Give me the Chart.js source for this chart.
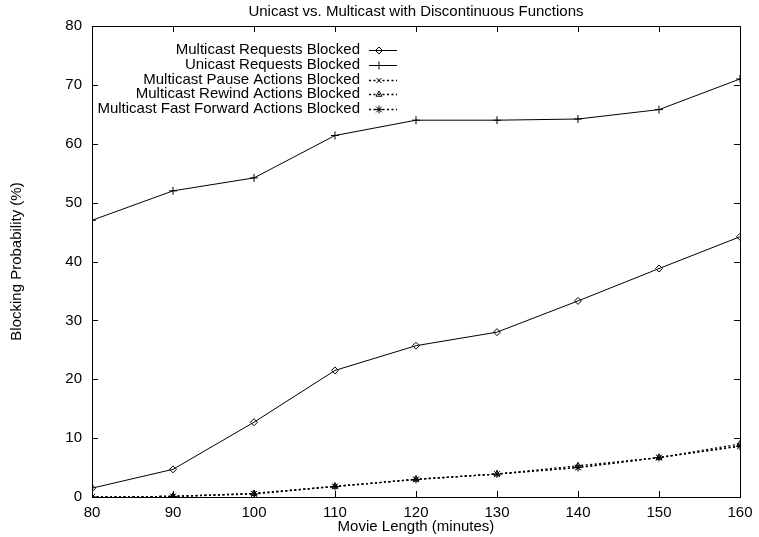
<!DOCTYPE html>
<html>
<head>
<meta charset="utf-8">
<title>Unicast vs. Multicast with Discontinuous Functions</title>
<script src="https://cdn.jsdelivr.net/npm/chart.js@4.4.1/dist/chart.umd.min.js"></script>
<style>
  html, body { margin: 0; padding: 0; background: #fff; }
  #wrap { width: 759px; height: 537px; position: relative; }
</style>
</head>
<body>
<div id="wrap"><canvas id="chart"></canvas></div>
<script>
// Movie length (minutes) on the x axis
const movieLength = [80, 90, 100, 110, 120, 130, 140, 150, 160];

// Blocking probability (%) per series
const multicastRequests = [1.5, 4.7, 12.7, 21.5, 25.7, 28.0, 33.3, 38.8, 44.2];
const unicastRequests = [47.0, 52.0, 54.2, 61.4, 64.0, 64.0, 64.2, 65.8, 71.0];
const pauseBlocked = [0.0, 0.1, 0.6, 1.8, 3.0, 3.9, 5.0, 6.7, 8.7];
const rewindBlocked = [0.0, 0.1, 0.6, 1.8, 3.0, 3.9, 5.3, 6.7, 9.0];
const fastForwardBlocked = [0.0, 0.1, 0.5, 1.8, 3.0, 3.9, 5.0, 6.7, 8.6];

const seriesLabels = [
  "Multicast Requests Blocked",
  "Unicast Requests Blocked",
  "Multicast Pause Actions Blocked",
  "Multicast Rewind Actions Blocked",
  "Multicast Fast Forward Actions Blocked",
];

// Axis ranges and tick step
const xRange = [80, 160];
const yRange = [0, 80];
const xStep = 10;
const yStep = 10;

const FONT = "'Liberation Sans', Arial, Helvetica, sans-serif";
const FONT_SIZE = 15;
Chart.defaults.font.family = FONT;
Chart.defaults.font.size = FONT_SIZE;
Chart.defaults.font.lineHeight = 1.2;
Chart.defaults.color = "#000";

const toPoints = (ys) => movieLength.map((x, i) => ({ x, y: ys[i] }));

const seriesStyle = [
  { style: "rectRot", radius: 3.5, dash: [] },
  { style: "cross", radius: 4, dash: [] },
  { style: "crossRot", radius: 3.5, dash: [2, 2.5] },
  { style: "triangle", radius: 3.5, dash: [2, 2.5] },
  { style: "star", radius: 4, dash: [2, 2.5] },
];

const seriesData = [multicastRequests, unicastRequests, pauseBlocked, rewindBlocked, fastForwardBlocked];

const datasets = seriesData.map((ys, i) => ({
  label: seriesLabels[i],
  data: toPoints(ys),
  borderColor: "#000",
  borderWidth: seriesStyle[i].dash.length ? 1.3 : 1,
  borderDash: seriesStyle[i].dash,
  pointStyle: seriesStyle[i].style,
  pointRadius: seriesStyle[i].radius,
  pointBorderColor: "#000",
  pointBackgroundColor: "rgba(0,0,0,0)",
  pointBorderWidth: 1,
  tension: 0,
  fill: false,
}));

// frame, inward ticks, centred title and gnuplot-style key
const gnuplotDecor = {
  id: "gnuplotDecor",
  afterDraw(chart) {
    const { ctx, chartArea: a, scales } = chart;
    ctx.save();
    ctx.strokeStyle = "#000";
    ctx.lineWidth = 1;
    ctx.setLineDash([]);
    ctx.strokeRect(Math.round(a.left) + 0.5, Math.round(a.top) + 0.5,
      Math.round(a.right - a.left), Math.round(a.bottom - a.top));

    const tl = 6;
    ctx.beginPath();
    scales.x.ticks.forEach((t) => {
      const px = Math.round(scales.x.getPixelForValue(t.value)) + 0.5;
      ctx.moveTo(px, a.bottom); ctx.lineTo(px, a.bottom - tl);
      ctx.moveTo(px, a.top); ctx.lineTo(px, a.top + tl);
    });
    scales.y.ticks.forEach((t) => {
      const py = Math.round(scales.y.getPixelForValue(t.value)) + 0.5;
      ctx.moveTo(a.left, py); ctx.lineTo(a.left + tl, py);
      ctx.moveTo(a.right, py); ctx.lineTo(a.right - tl, py);
    });
    ctx.stroke();

    // title
    ctx.fillStyle = "#000";
    ctx.font = FONT_SIZE + "px " + FONT;
    ctx.textAlign = "center";
    ctx.textBaseline = "middle";
    ctx.fillText("Unicast vs. Multicast with Discontinuous Functions", (a.left + a.right) / 2, 12);

    // key
    const textRight = 360, lineFrom = 369, lineTo = 397, markX = 379;
    const rowY0 = 50, rowH = 14.75;
    chart.data.datasets.forEach((ds, i) => {
      const y = rowY0 + i * rowH;
      ctx.fillStyle = "#000";
      ctx.textAlign = "right";
      ctx.fillText(ds.label, textRight, y);
      ctx.setLineDash(ds.borderDash || []);
      ctx.lineWidth = ds.borderWidth;
      ctx.beginPath();
      ctx.moveTo(lineFrom, Math.round(y) + 0.5);
      ctx.lineTo(lineTo, Math.round(y) + 0.5);
      ctx.stroke();
      ctx.setLineDash([]);
      ctx.lineWidth = 1;
      ctx.fillStyle = "rgba(0,0,0,0)";
      Chart.helpers.drawPoint(ctx, {
        pointStyle: ds.pointStyle, radius: ds.pointRadius, borderWidth: 1, rotation: 0,
      }, markX, Math.round(y) + 0.5);
    });
    ctx.restore();
  },
};

new Chart(document.getElementById("chart"), {
  type: "line",
  data: { datasets },
  plugins: [gnuplotDecor],
  options: {
    responsive: true,
    maintainAspectRatio: false,
    animation: false,
    layout: { padding: { top: 26, right: 14, bottom: 0, left: 0 } },
    plugins: {
      legend: { display: false },
      title: { display: false },
      tooltip: { enabled: false },
    },
    scales: {
      x: {
        type: "linear",
        min: xRange[0],
        max: xRange[1],
        ticks: { stepSize: xStep, padding: 6.5, maxRotation: 0 },
        grid: { display: false, drawTicks: false },
        border: { display: false },
        title: { display: true, text: "Movie Length (minutes)", padding: { top: 0, bottom: 1 } },
        afterFit(scale) { scale.height = 40; },
      },
      y: {
        min: yRange[0],
        max: yRange[1],
        ticks: { stepSize: yStep, padding: 10 },
        grid: { display: false, drawTicks: false },
        border: { display: false },
        title: { display: true, text: "Blocking Probability (%)", padding: { top: 8, bottom: 0 } },
        afterFit(scale) { scale.width = 92; },
      },
    },
  },
});
</script>
</body>
</html>
